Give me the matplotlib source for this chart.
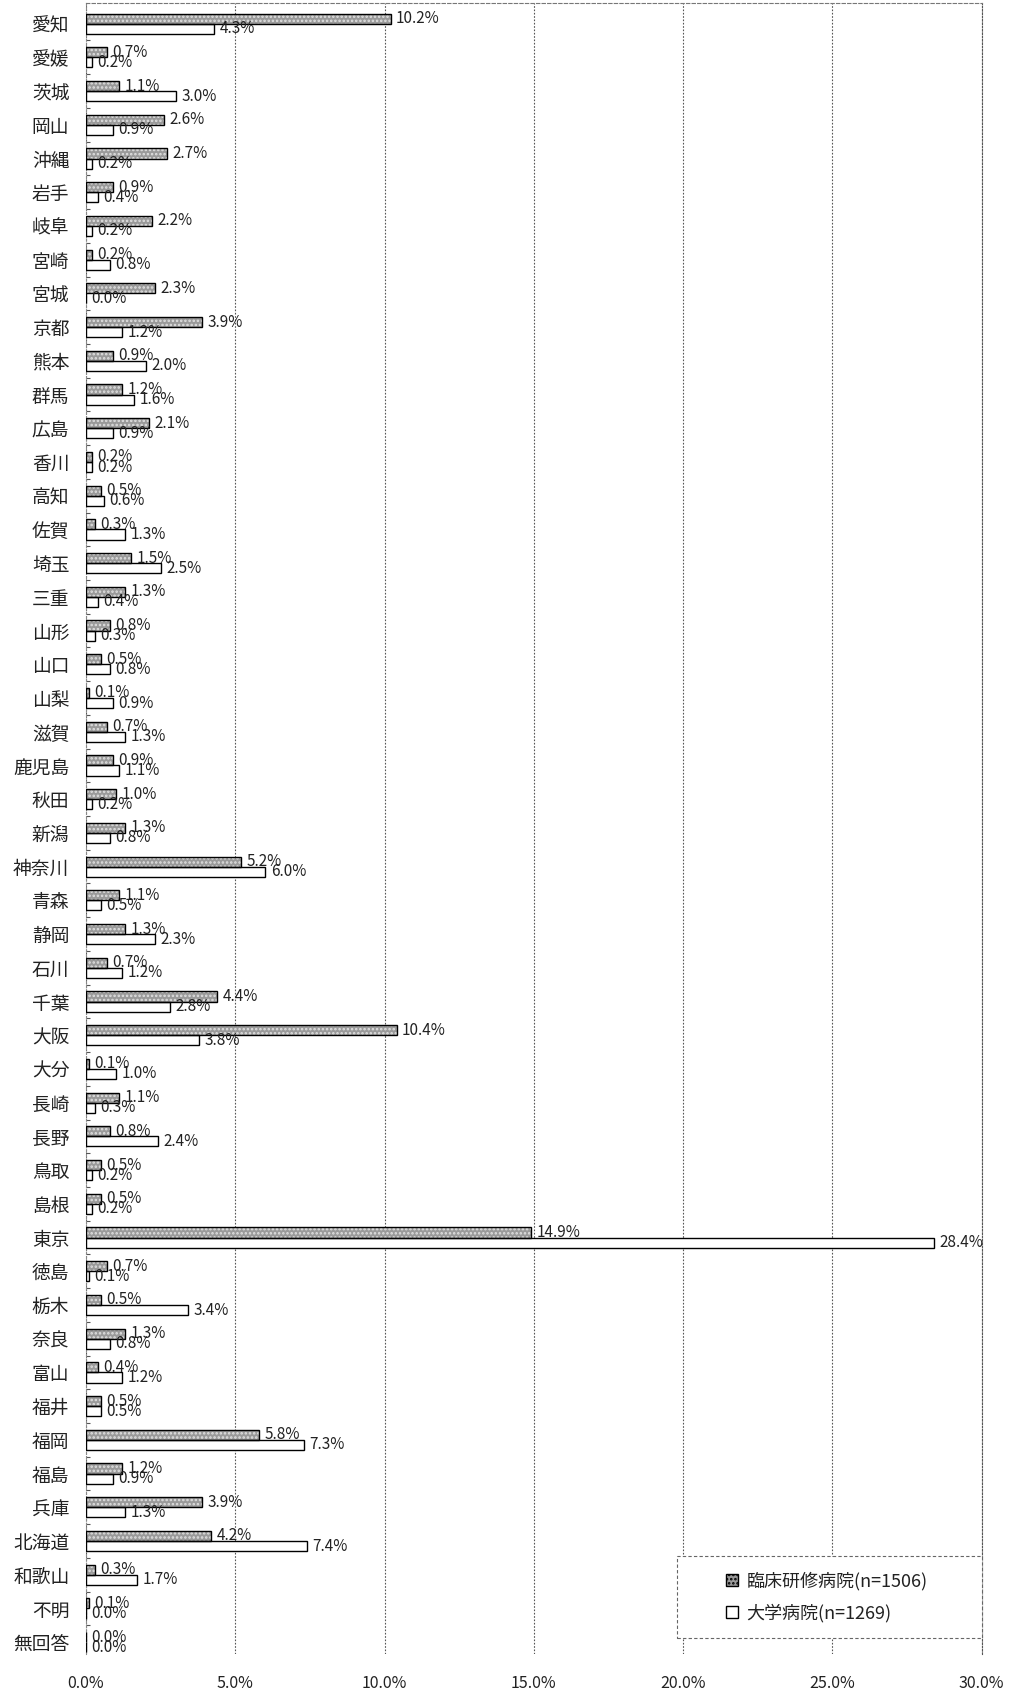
import matplotlib
matplotlib.use("Agg")
import matplotlib.pyplot as plt
from matplotlib.patches import Patch, Rectangle
import numpy as np

plt.rcParams['font.family'] = ['Noto Sans CJK JP', 'DejaVu Sans']
plt.rcParams['hatch.linewidth'] = 1.2

# prefectures (top to bottom)
prefs = ['愛知', '愛媛', '茨城', '岡山', '沖縄', '岩手', '岐阜', '宮崎', '宮城', '京都',
         '熊本', '群馬', '広島', '香川', '高知', '佐賀', '埼玉', '三重', '山形', '山口',
         '山梨', '滋賀', '鹿児島', '秋田', '新潟', '神奈川', '青森', '静岡', '石川', '千葉',
         '大阪', '大分', '長崎', '長野', '鳥取', '島根', '東京', '徳島', '栃木', '奈良',
         '富山', '福井', '福岡', '福島', '兵庫', '北海道', '和歌山', '不明', '無回答']

# 臨床研修病院 (n=1506), %
rinsho = [10.2, 0.7, 1.1, 2.6, 2.7, 0.9, 2.2, 0.2, 2.3, 3.9,
          0.9, 1.2, 2.1, 0.2, 0.5, 0.3, 1.5, 1.3, 0.8, 0.5,
          0.1, 0.7, 0.9, 1.0, 1.3, 5.2, 1.1, 1.3, 0.7, 4.4,
          10.4, 0.1, 1.1, 0.8, 0.5, 0.5, 14.9, 0.7, 0.5, 1.3,
          0.4, 0.5, 5.8, 1.2, 3.9, 4.2, 0.3, 0.1, 0.0]

# 大学病院 (n=1269), %
daigaku = [4.3, 0.2, 3.0, 0.9, 0.2, 0.4, 0.2, 0.8, 0.0, 1.2,
           2.0, 1.6, 0.9, 0.2, 0.6, 1.3, 2.5, 0.4, 0.3, 0.8,
           0.9, 1.3, 1.1, 0.2, 0.8, 6.0, 0.5, 2.3, 1.2, 2.8,
           3.8, 1.0, 0.3, 2.4, 0.2, 0.2, 28.4, 0.1, 3.4, 0.8,
           1.2, 0.5, 7.3, 0.9, 1.3, 7.4, 1.7, 0.0, 0.0]

legend_labels = ['臨床研修病院(n=1506)', '大学病院(n=1269)']
xticks = [0, 5, 10, 15, 20, 25, 30]

fig = plt.figure(figsize=(10.12, 16.95), dpi=100)
ax = fig.add_axes([0.085, 0.024, 0.885, 0.974])

y = np.arange(len(prefs))
h = 0.3

# gray stippled bars: fill + hatch, then a black outline on top
ax.barh(y - h / 2, rinsho, height=h, color='#9a9a9a', edgecolor='#e0e0e0',
        hatch='....', linewidth=0, zorder=3)
ax.barh(y - h / 2, rinsho, height=h, fill=False, edgecolor='black',
        linewidth=1.0, zorder=4)
ax.barh(y + h / 2, daigaku, height=h, color='white', edgecolor='black',
        linewidth=1.0, zorder=3)

for yi, v in zip(y, rinsho):
    ax.annotate(f'{v:.1f}%', (v, yi - h / 2), xytext=(4, 0), textcoords='offset points',
                va='center', ha='left', fontsize=11, color='#222222', zorder=5)
for yi, v in zip(y, daigaku):
    ax.annotate(f'{v:.1f}%', (v, yi + h / 2), xytext=(4, 0), textcoords='offset points',
                va='center', ha='left', fontsize=11, color='#222222', zorder=5)

ax.set_xlim(0, 30)
ax.set_ylim(len(prefs) - 1 + 0.36, -0.6)
ax.set_xticks(xticks)
ax.set_xticklabels([f'{t:.1f}%' for t in xticks])
ax.set_yticks(y)
ax.set_yticklabels(prefs)
ax.tick_params(axis='x', length=0, pad=15, labelsize=11.5, colors='#222222')
ax.tick_params(axis='y', length=0, pad=12, labelsize=13.5, colors='#222222')
ax.set_yticks(y[:-1] + 0.5, minor=True)
ax.tick_params(axis='y', which='minor', length=3, width=0.8, color='#555555', direction='in')

# dotted vertical gridlines
ax.grid(axis='x', linestyle=(0, (1.5, 1.5)), color='#555555', linewidth=0.8, zorder=0)
ax.set_axisbelow(True)

ax.spines['bottom'].set_visible(False)
ax.spines['top'].set_linestyle((0, (3, 2)))
ax.spines['top'].set_color('#777777')
ax.spines['top'].set_linewidth(0.8)
ax.spines['right'].set_linestyle((0, (1.5, 1.5)))
ax.spines['right'].set_color('#555555')
ax.spines['right'].set_linewidth(0.8)
ax.spines['left'].set_linestyle((0, (2, 2)))
ax.spines['left'].set_color('#888888')
ax.spines['left'].set_linewidth(0.8)

# legend: dashed box drawn separately, entries indented inside it
box = Rectangle((0.66, 0.0097), 0.34, 0.0497, transform=ax.transAxes, fill=True,
                facecolor='white', edgecolor='#666666', linestyle=(0, (3, 2)),
                linewidth=0.8, zorder=6, clip_on=False)
ax.add_patch(box)
handles = [Patch(facecolor='#9a9a9a', edgecolor='black', hatch='....', linewidth=1.0),
           Patch(facecolor='white', edgecolor='black', linewidth=1.0)]
leg = ax.legend(handles, legend_labels, loc='center left',
                bbox_to_anchor=(0.715, 0.0097 + 0.0497 / 2),
                fontsize=13, handlelength=0.65, handleheight=0.65, handletextpad=0.45,
                labelspacing=0.75, borderpad=0, frameon=False, borderaxespad=0)
leg.set_zorder(7)
for t in leg.get_texts():
    t.set_color('#222222')

fig.savefig('out.png', dpi=100)
